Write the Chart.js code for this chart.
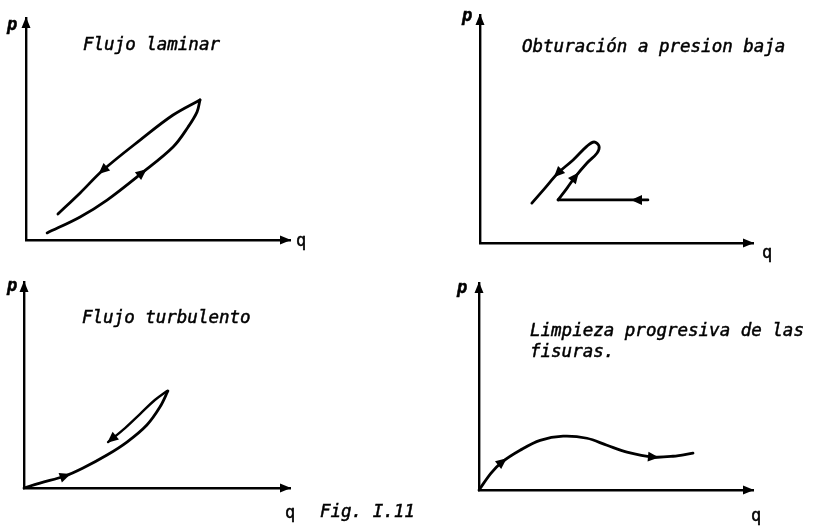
<!DOCTYPE html>
<html><head><meta charset="utf-8">
<script src="https://cdn.jsdelivr.net/npm/chart.js@4"></script>
<style>
html,body{margin:0;padding:0;background:#fff;}
#wrap{position:relative;width:822px;height:527px;overflow:hidden;background:#fff;}
canvas{position:absolute;left:0;top:0;}
</style></head><body><div id="wrap">
<canvas id="c1" width="822" height="527"></canvas>
<canvas id="c2" width="822" height="527"></canvas>
<canvas id="c3" width="822" height="527"></canvas>
<canvas id="c4" width="822" height="527"></canvas>
</div>
<script>
// ---- data (q, p), arbitrary units 0..10 ----
const laminarLoad   = [[0.80,0.32],[2.05,1.04],[3.07,1.80],[4.39,3.02],[5.57,4.19],[6.14,5.09],[6.48,5.77],[6.59,6.31]];
const laminarUnload = [[6.59,6.31],[5.57,5.63],[4.32,4.50],[2.92,3.15],[2.05,2.12],[1.21,1.17]];
const obturStart    = [[6.15,1.89],[5.75,1.89],[2.86,1.89]];
const obturLoop     = [[2.86,1.89],[3.19,2.41],[3.48,2.89],[3.92,3.51],[4.29,3.95],[4.36,4.25],[4.18,4.43],[3.92,4.25],[3.41,3.64],[2.86,3.07],[2.38,2.41],[1.90,1.75]];
const turbLoad      = [[0,0],[0.60,0.24],[1.54,0.58],[2.22,0.97],[3.12,1.60],[3.87,2.23],[4.62,3.06],[5.11,3.93],[5.41,4.71]];
const turbUnload    = [[5.38,4.71],[4.92,4.27],[4.36,3.59],[3.80,2.91],[3.16,2.23]];
const limpieza      = [[0,0],[0.44,0.82],[0.84,1.35],[1.50,1.92],[2.23,2.40],[3.07,2.60],[3.94,2.50],[4.67,2.16],[5.40,1.83],[6.35,1.59],[7.08,1.63],[7.81,1.78]];
// indices of direction arrows on each curve
const laminarLoadArrows = [3], laminarUnloadArrows = [3];
const obturStartArrows = [1], obturLoopArrows = [2, 9];
const turbLoadArrows = [2], turbUnloadArrows = [4];
const limpiezaArrows = [2, 9];
// texts
const titles = ["Flujo laminar", "Obturación a presion baja", "Flujo turbulento", ["Limpieza progresiva de las", "fisuras."]];
const axisP = "p", axisQ = "q", figLabel = "Fig. I.11";

const TITLE_FONT = "italic 17.5px 'DejaVu Sans Mono'";
const AXIS_FONT = "italic bold 17px 'DejaVu Sans Mono'";
const QFONT = "17px 'DejaVu Sans Mono'";

const pts = a => a.map(([x,y]) => ({x, y}));

const overlay = {
  id: 'overlay',
  afterDatasetsDraw(chart, args, opts) {
    const ctx = chart.ctx;
    const xs = chart.scales.x, ys = chart.scales.y;
    ctx.save();
    ctx.fillStyle = '#000';
    ctx.strokeStyle = '#000';
    // axis arrowheads
    const x0 = xs.getPixelForValue(xs.min), x1 = xs.getPixelForValue(xs.max);
    const y0 = ys.getPixelForValue(ys.min), y1 = ys.getPixelForValue(ys.max);
    ctx.beginPath(); ctx.moveTo(x0, y1 - 1); ctx.lineTo(x0 - 4.5, y1 + 10); ctx.lineTo(x0 + 4.5, y1 + 10); ctx.closePath(); ctx.fill();
    ctx.beginPath(); ctx.moveTo(x1 + 1, y0); ctx.lineTo(x1 - 10, y0 - 4.5); ctx.lineTo(x1 - 10, y0 + 4.5); ctx.closePath(); ctx.fill();
    // curve arrows
    chart.data.datasets.forEach((ds, di) => {
      const meta = chart.getDatasetMeta(di);
      (ds.arrows || []).forEach(i => {
        const n = meta.data.length;
        const a = meta.data[Math.max(0, i - 1)], b = meta.data[Math.min(n - 1, i + 1)];
        const p = meta.data[i];
        const ang = Math.atan2(b.y - a.y, b.x - a.x);
        const atEnd = i === n - 1;
        ctx.save();
        ctx.translate(p.x, p.y); ctx.rotate(ang);
        ctx.beginPath();
        if (atEnd) { ctx.moveTo(1, 0); ctx.lineTo(-10, -5); ctx.lineTo(-10, 5); }
        else { ctx.moveTo(6, 0); ctx.lineTo(-5, -5); ctx.lineTo(-5, 5); }
        ctx.closePath(); ctx.fill();
        ctx.restore();
      });
    });
    // texts
    ctx.textBaseline = 'alphabetic';
    ctx.lineWidth = 0.5;
    (opts.texts || []).forEach(t => {
      ctx.font = t.font;
      ctx.fillText(t.s, t.x, t.y);
      ctx.strokeText(t.s, t.x, t.y);
    });
    ctx.restore();
  }
};

function panel(id, area, datasets, texts) {
  new Chart(document.getElementById(id), {
    type: 'scatter',
    data: { datasets: datasets.map(d => ({
      data: pts(d.data), arrows: d.arrows, showLine: true, borderColor: '#000',
      borderWidth: d.w || 2.8, tension: d.t === undefined ? 0.35 : d.t, pointRadius: 0,
      borderCapStyle: 'round', borderJoinStyle: 'round', clip: false, fill: false
    })) },
    options: {
      responsive: false, animation: false, events: [],
      layout: { padding: { left: area.l, top: area.t, right: 822 - area.r, bottom: 527 - area.b } },
      plugins: { legend: { display: false }, tooltip: { enabled: false }, title: { display: false }, overlay: { texts } },
      scales: {
        x: { type: 'linear', min: 0, max: 10, ticks: { display: false }, grid: { display: false },
             border: { display: true, color: '#000', width: 2.4 }, afterFit: s => { s.height = 0; } },
        y: { type: 'linear', min: 0, max: 10, ticks: { display: false }, grid: { display: false },
             border: { display: true, color: '#000', width: 2.4 }, afterFit: s => { s.width = 0; } }
      }
    },
    plugins: [overlay]
  });
}

panel('c1', {l:26, t:18, r:290, b:240}, [
  {data: laminarLoad, arrows: laminarLoadArrows},
  {data: laminarUnload, arrows: laminarUnloadArrows}
], [
  {s: axisP, x: 7, y: 30, font: AXIS_FONT},
  {s: axisQ, x: 296, y: 246, font: QFONT},
  {s: titles[0], x: 83, y: 50, font: TITLE_FONT}
]);

panel('c2', {l:480, t:15, r:753, b:243}, [
  {data: obturStart, arrows: obturStartArrows, t: 0},
  {data: obturLoop, arrows: obturLoopArrows}
], [
  {s: axisP, x: 462, y: 21, font: AXIS_FONT},
  {s: axisQ, x: 762, y: 258, font: QFONT},
  {s: titles[1], x: 522, y: 52, font: TITLE_FONT}
]);

panel('c3', {l:24, t:282, r:290, b:488}, [
  {data: turbLoad, arrows: turbLoadArrows},
  {data: turbUnload, arrows: turbUnloadArrows, w: 2.4}
], [
  {s: axisP, x: 7, y: 291, font: AXIS_FONT},
  {s: axisQ, x: 285, y: 518, font: QFONT},
  {s: figLabel, x: 320, y: 517, font: TITLE_FONT},
  {s: titles[2], x: 82, y: 323, font: TITLE_FONT}
]);

panel('c4', {l:479, t:283, r:753, b:490}, [
  {data: limpieza, arrows: limpiezaArrows}
], [
  {s: axisP, x: 457, y: 293, font: AXIS_FONT},
  {s: axisQ, x: 751, y: 521, font: QFONT},
  {s: titles[3][0], x: 530, y: 336, font: TITLE_FONT},
  {s: titles[3][1], x: 530, y: 357, font: TITLE_FONT}
]);
</script>
</body></html>
